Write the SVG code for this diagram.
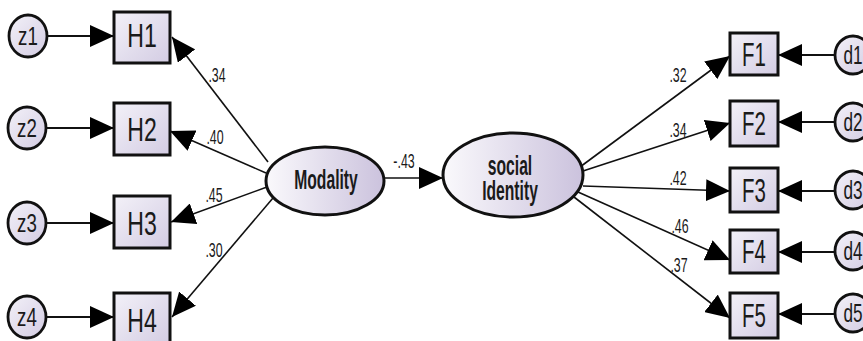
<svg xmlns="http://www.w3.org/2000/svg" width="863" height="341" viewBox="0 0 863 341">
<defs>
<linearGradient id="gb" x1="0" y1="0" x2="1" y2="1">
<stop offset="0" stop-color="#f3f1f8"/>
<stop offset="1" stop-color="#d3cce3"/>
</linearGradient>
<linearGradient id="ge" x1="0" y1="0" x2="1" y2="0">
<stop offset="0" stop-color="#faf9fc"/>
<stop offset="1" stop-color="#cbc2dd"/>
</linearGradient>
<marker id="ah" markerUnits="userSpaceOnUse" markerWidth="24" markerHeight="22" refX="24" refY="11" orient="auto">
<path d="M0,0 L24,11 L0,22 Z" fill="#000"/>
</marker>
<style>
.box{fill:url(#gb);stroke:#111;stroke-width:3}
.ell{fill:url(#ge);stroke:#111;stroke-width:3}
.err{fill:url(#gb);stroke:#111;stroke-width:2.8}
.c{fill:none;stroke:#111;stroke-width:1.6;marker-end:url(#ah)}
.ce{fill:none;stroke:#111;stroke-width:2.2;marker-end:url(#ah)}
text{font-family:"Liberation Sans",Arial,sans-serif;fill:#1a1a1a;text-anchor:middle}
.lb{font-size:33px}
.el{font-size:26px}
.bl{font-size:27px;font-weight:bold}
.w{font-size:20px}
</style>
</defs>
<g id="connectors">
<path class="ce" d="M48,36 L114,36"/>
<path class="ce" d="M47,128 L114,128"/>
<path class="ce" d="M47,223 L114,223"/>
<path class="ce" d="M47,317 L114,317"/>
<path class="c" d="M268,162 L172,37"/>
<path class="c" d="M266,173 L170,131"/>
<path class="c" d="M267,187 L171,222"/>
<path class="c" d="M273,198 L172,317"/>
<path class="c" d="M384,178 L443,178"/>
<path class="c" d="M580,167 L730,56"/>
<path class="c" d="M583,171 L730,123"/>
<path class="c" d="M583,186 L730,191"/>
<path class="c" d="M578,192 L730,260"/>
<path class="c" d="M574,197 L730,318"/>
<path class="ce" d="M835,55 L778,55"/>
<path class="ce" d="M835,122 L778,122"/>
<path class="ce" d="M835,191 L778,191"/>
<path class="ce" d="M835,252 L778,252"/>
<path class="ce" d="M835,314 L778,314"/>
</g>
<g id="weights">
<text class="w" transform="translate(217,82) scale(0.62,1)">.34</text>
<text class="w" transform="translate(215,144) scale(0.62,1)">.40</text>
<text class="w" transform="translate(214,202) scale(0.62,1)">.45</text>
<text class="w" transform="translate(214,257) scale(0.62,1)">.30</text>
<text class="w" transform="translate(404,168) scale(0.62,1)">-.43</text>
<text class="w" transform="translate(678,82) scale(0.62,1)">.32</text>
<text class="w" transform="translate(678,137) scale(0.62,1)">.34</text>
<text class="w" transform="translate(678,185) scale(0.62,1)">.42</text>
<text class="w" transform="translate(680,233) scale(0.62,1)">.46</text>
<text class="w" transform="translate(679,272) scale(0.62,1)">.37</text>
</g>
<g id="z1"><ellipse class="err" cx="28" cy="36" rx="19" ry="21"/><text class="el" transform="translate(28,45) scale(0.72,1)">z1</text></g>
<g id="z2"><ellipse class="err" cx="27" cy="128" rx="19" ry="21"/><text class="el" transform="translate(27,137) scale(0.72,1)">z2</text></g>
<g id="z3"><ellipse class="err" cx="27" cy="223" rx="19" ry="21"/><text class="el" transform="translate(27,232) scale(0.72,1)">z3</text></g>
<g id="z4"><ellipse class="err" cx="27" cy="317" rx="19" ry="21"/><text class="el" transform="translate(27,326) scale(0.72,1)">z4</text></g>
<g id="H1"><rect class="box" x="114" y="12" width="56" height="51"/><text class="lb" transform="translate(142,47) scale(0.7,1)">H1</text></g>
<g id="H2"><rect class="box" x="114" y="103" width="56" height="52"/><text class="lb" transform="translate(142,141) scale(0.7,1)">H2</text></g>
<g id="H3"><rect class="box" x="114" y="196" width="56" height="52"/><text class="lb" transform="translate(142,235) scale(0.7,1)">H3</text></g>
<g id="H4"><rect class="box" x="114" y="293" width="56" height="52"/><text class="lb" transform="translate(142,332) scale(0.7,1)">H4</text></g>
<g id="Modality"><ellipse class="ell" cx="325" cy="181" rx="59" ry="34"/><text class="bl" transform="translate(326,189) scale(0.58,1)">Modality</text></g>
<g id="socialIdentity"><ellipse class="ell" cx="513" cy="175" rx="70" ry="42"/><text class="bl" transform="translate(510,175) scale(0.58,1)">social</text><text class="bl" transform="translate(510,200) scale(0.58,1)">Identity</text></g>
<g id="F1"><rect class="box" x="730" y="33" width="48" height="42"/><text class="lb" transform="translate(754,66) scale(0.62,1)">F1</text></g>
<g id="F2"><rect class="box" x="730" y="101" width="48" height="45"/><text class="lb" transform="translate(754,135) scale(0.62,1)">F2</text></g>
<g id="F3"><rect class="box" x="730" y="168" width="48" height="44"/><text class="lb" transform="translate(754,202) scale(0.62,1)">F3</text></g>
<g id="F4"><rect class="box" x="730" y="230" width="48" height="43"/><text class="lb" transform="translate(754,263) scale(0.62,1)">F4</text></g>
<g id="F5"><rect class="box" x="730" y="293" width="48" height="45"/><text class="lb" transform="translate(754,327) scale(0.62,1)">F5</text></g>
<g id="d1"><ellipse class="err" cx="853" cy="55" rx="18" ry="19"/><text class="el" transform="translate(853,64) scale(0.66,1)">d1</text></g>
<g id="d2"><ellipse class="err" cx="853" cy="122" rx="18" ry="19"/><text class="el" transform="translate(853,131) scale(0.66,1)">d2</text></g>
<g id="d3"><ellipse class="err" cx="853" cy="190" rx="18" ry="19"/><text class="el" transform="translate(853,199) scale(0.66,1)">d3</text></g>
<g id="d4"><ellipse class="err" cx="853" cy="251" rx="18" ry="19"/><text class="el" transform="translate(853,260) scale(0.66,1)">d4</text></g>
<g id="d5"><ellipse class="err" cx="853" cy="313" rx="18" ry="19"/><text class="el" transform="translate(853,322) scale(0.66,1)">d5</text></g>
</svg>
